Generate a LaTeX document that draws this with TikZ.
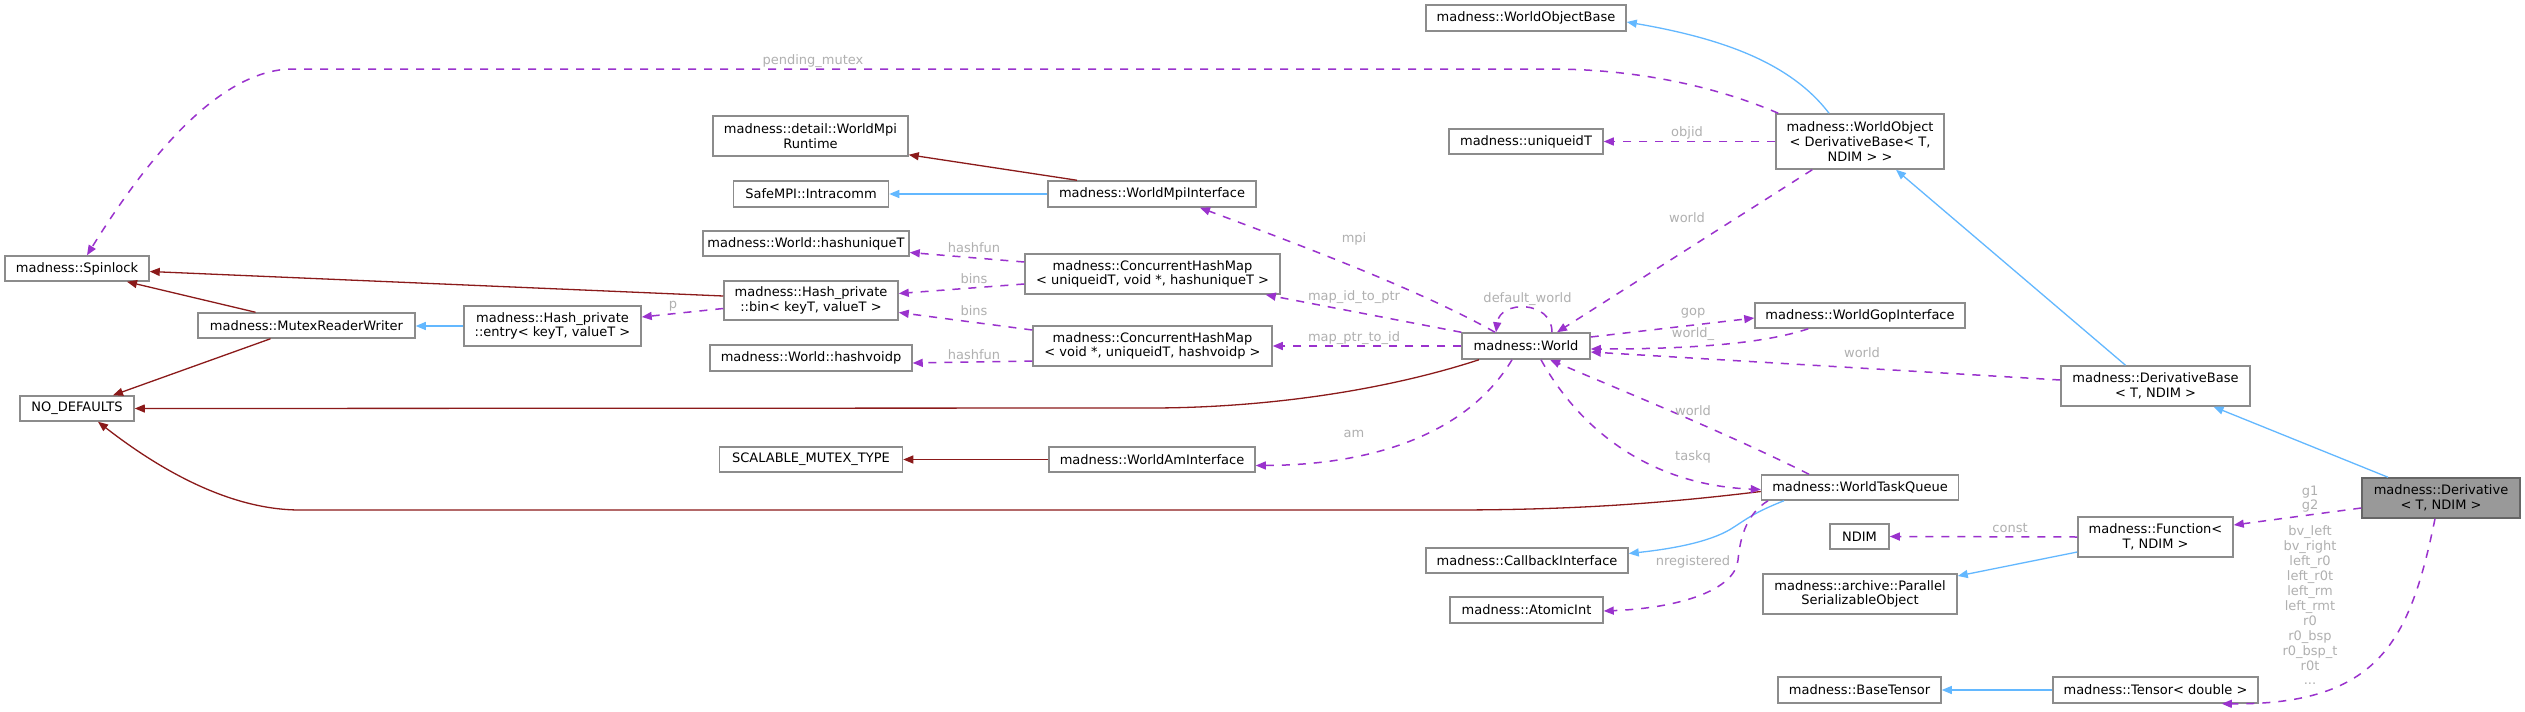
\documentclass[tikz,border=0pt]{standalone}
\usepackage{fontspec}
\setmainfont{DejaVu Sans}
\usetikzlibrary{arrows.meta,calc}
\definecolor{inhc}{HTML}{63B8FF}
\definecolor{protc}{HTML}{8B1A1A}
\definecolor{usec}{HTML}{9A32CD}
\definecolor{lblc}{HTML}{B0B0B0}
\definecolor{bordc}{HTML}{8C8C8C}
\definecolor{dfill}{HTML}{999999}
\definecolor{dbord}{HTML}{666666}
\begin{document}
\begin{tikzpicture}[x=1pt,y=-1pt,
  font=\fontsize{13}{14.6}\selectfont,
  cls/.style={draw=bordc, line width=1.5pt, fill=white, inner sep=0pt, align=center, text=black},
  wh/.style 2 args={minimum width=#1pt, minimum height=#2pt},
  tip/.style={-{Triangle[length=10pt,width=8pt]}},
  inh/.style={draw=inhc, line width=1.3pt, tip},
  prot/.style={draw=protc, line width=1.3pt, tip},
  use/.style={draw=usec, line width=1.5pt, dash pattern=on 8pt off 8pt, tip},
  lbl/.style={text=lblc, inner sep=0pt, align=center}]
\useasboundingbox (0,0) rectangle (2525,712);
\fill[white] (0,0) rectangle (2525,712);

% nodes
\node[cls, wh={200}{26}] (wob) at (1526,18) {madness::WorldObjectBase};
\node[cls, wh={168}{55}] (wo) at (1860,141.5) {madness::WorldObject\\< DerivativeBase< T,\\ NDIM > >};
\node[cls, wh={154}{25}] (uid) at (1526,141.5) {madness::uniqueidT};
\node[cls, wh={195}{40}] (rt) at (810.5,136) {madness::detail::WorldMpi\\Runtime};
\node[cls, wh={155}{26}] (safe) at (811,194) {SafeMPI::Intracomm};
\node[cls, wh={208}{26}] (mpi) at (1152,194) {madness::WorldMpiInterface};
\node[cls, wh={206}{25}] (hu) at (806,243.5) {madness::World::hashuniqueT};
\node[cls, wh={255}{40}] (chm1) at (1152.5,274) {madness::ConcurrentHashMap\\< uniqueidT, void *, hashuniqueT >};
\node[cls, wh={174}{39}] (bin) at (811,300.5) {madness::Hash\_private\\::bin< keyT, valueT >};
\node[cls, wh={177}{40}] (entry) at (552.5,326) {madness::Hash\_private\\::entry< keyT, valueT >};
\node[cls, wh={217}{25}] (mrw) at (306.5,325.5) {madness::MutexReaderWriter};
\node[cls, wh={144}{25}] (spin) at (77,268.5) {madness::Spinlock};
\node[cls, wh={202}{26}] (hv) at (811,358) {madness::World::hashvoidp};
\node[cls, wh={239}{40}] (chm2) at (1152.5,346) {madness::ConcurrentHashMap\\< void *, uniqueidT, hashvoidp >};
\node[cls, wh={128}{26}] (world) at (1526,346) {madness::World};
\node[cls, wh={114}{25}] (nod) at (77,408.5) {NO\_DEFAULTS};
\node[cls, wh={183}{25}] (smt) at (811,459.5) {SCALABLE\_MUTEX\_TYPE};
\node[cls, wh={206}{25}] (am) at (1152,459.5) {madness::WorldAmInterface};
\node[cls, wh={202}{25}] (cb) at (1527,560.5) {madness::CallbackInterface};
\node[cls, wh={153}{26}] (ai) at (1526.5,610) {madness::AtomicInt};
\node[cls, wh={197}{25}] (wtq) at (1860,487.5) {madness::WorldTaskQueue};
\node[cls, wh={210}{25}] (gop) at (1860,315.5) {madness::WorldGopInterface};
\node[cls, wh={59}{25}] (ndim) at (1859.5,536.5) {NDIM};
\node[cls, wh={194}{40}] (pso) at (1860,594) {madness::archive::Parallel\\SerializableObject};
\node[cls, wh={163}{26}] (bt) at (1859.5,690) {madness::BaseTensor};
\node[cls, wh={155}{40}] (fn) at (2155.5,537) {madness::Function<\\ T, NDIM >};
\node[cls, wh={205}{26}] (ten) at (2155.5,690) {madness::Tensor< double >};
\node[cls, wh={189}{40}] (db) at (2155.5,386) {madness::DerivativeBase\\< T, NDIM >};
\node[cls, wh={158}{40}, fill=dfill, draw=dbord] (der) at (2441,498) {madness::Derivative\\< T, NDIM >};

% public inheritance
\draw[inh] ($(wo.north)+(-31,0)$) .. controls (1790,62) and (1720,38) .. ($(wob.east)+(0,4)$);
\draw[inh] ($(db.north)+(-30,0)$) -- ($(wo.south)+(36,0)$);
\draw[inh] ($(der.north)+(-53,0)$) -- ($(db.south)+(58,0)$);
\draw[inh] (mpi.west) -- (safe.east);
\draw[inh] (entry.west) -- ($(mrw.east)+(0,0.5)$);
\draw[inh] ($(wtq.south)+(-76,0)$) .. controls (1755,512) and (1745,520) .. (1734,527) .. controls (1715,540) and (1680,548) .. ($(cb.east)+(0,-7)$);
\draw[inh] ($(fn.west)+(0,15)$) -- ($(pso.east)+(0,-18)$);
\draw[inh] (ten.west) -- (bt.east);

% protected inheritance
\draw[prot] ($(mpi.north)+(-75,0)$) -- ($(rt.south east)+(0,-2)$);
\draw[prot] ($(bin.west)+(0,-4.5)$) -- ($(spin.east)+(0,3)$);
\draw[prot] ($(mrw.north)+(-51,0)$) -- ($(spin.south)+(50,0)$);
\draw[prot] ($(mrw.south)+(-36,0)$) -- ($(nod.north)+(36,0)$);
\draw[prot] ($(world.south)+(-47,0)$) .. controls (1380,392) and (1260,408) .. (1150,408) -- (nod.east);
\draw[prot] ($(wtq.west)+(0,4)$) .. controls (1650,505) and (1560,510) .. (1450,510) -- (300,510) .. controls (230,510) and (160,470) .. ($(nod.south)+(21,0)$);
\draw[prot] (am.west) -- (smt.east);

% usage
\draw[use] ($(wo.north west)+(3,0)$) .. controls (1720,88) and (1640,69) .. (1550,69) -- (293,69) .. controls (215,69) and (140,170) .. ($(spin.north)+(10,0)$);
\node[lbl] (lpm) at (813,61) {pending\_mutex};

\draw[use] (wo.west) -- (uid.east);
\node[lbl] (lobj) at (1687,133) {objid};

\draw[use] ($(wo.south west)+(37,0)$) -- ($(world.north)+(31,0)$);
\node[lbl] (lw1) at (1687,218) {world};

\draw[use] ($(world.north)+(-31,0)$) .. controls (1420,290) and (1300,245) .. ($(mpi.south)+(48,0)$);
\node[lbl] (lmpi) at (1354,239) {mpi};

\draw[use] (world.north west) -- ($(chm1.south east)+(-15,0)$);
\node[lbl] (lid) at (1354,297) {map\_id\_to\_ptr};

\draw[use] (world.west) -- (chm2.east);
\node[lbl] (lptr) at (1354,338) {map\_ptr\_to\_id};

\draw[use] ($(world.north)+(26,0)$) .. controls (1552,300) and (1500,300) .. ($(world.north)+(-30,0)$);
\node[lbl] (ldw) at (1527.5,299) {default\_world};

\draw[use] ($(world.east)+(0,-9)$) -- ($(gop.west)+(0,2.5)$);
\node[lbl] (lgop) at (1693,313) {gop};

\draw[use] ($(gop.south west)+(54,0)$) .. controls (1760,345) and (1680,349) .. ($(world.east)+(0,3)$);
\node[lbl] (lw2) at (1693,334) {world\_};

\draw[use] ($(db.west)+(0,-6)$) -- ($(world.east)+(0,6)$);
\node[lbl] (lw3) at (1862,353) {world};

\draw[use] ($(wtq.north)+(-51,0)$) .. controls (1720,430) and (1620,390) .. ($(world.south)+(24,0)$);
\node[lbl] (lw4) at (1693,411) {world};

\draw[use] ($(world.south)+(15,0)$) .. controls (1580,430) and (1650,485) .. ($(wtq.west)+(0,2)$);
\node[lbl] (ltq) at (1693,457) {taskq};

\draw[use] ($(world.south)+(-14,0)$) .. controls (1470,430) and (1380,465) .. ($(am.east)+(0,6)$);
\node[lbl] (lam) at (1354,434) {am};

\draw[use] ($(wtq.south)+(-92,0)$) .. controls (1745,515) and (1740,540) .. (1738,560) .. controls (1735,590) and (1680,608) .. ($(ai.east)+(0,1)$);
\node[lbl] (lnr) at (1693,562) {nregistered};

\draw[use] (fn.west) -- (ndim.east);
\node[lbl] (lc) at (2010,528) {const};

\draw[use] ($(der.west)+(0,10)$) -- ($(fn.east)+(0,-12)$);
\node[lbl, font=\fontsize{13}{14}\selectfont] (lg) at (2310,499) {g1\\g2};

\draw[use] ($(der.south)+(-6,0)$) .. controls (2410,640) and (2380,705) .. ($(ten.south east)+(-37,0)$);
\node[lbl, font=\fontsize{13}{14.9}\selectfont] (lst) at (2310,605.5) {bv\_left\\bv\_right\\left\_r0\\left\_r0t\\left\_rm\\left\_rmt\\r0\\r0\_bsp\\r0\_bsp\_t\\r0t\\...};

\draw[use] ($(bin.west)+(0,8)$) -- ($(entry.east)+(0,-9)$);
\node[lbl] (lp) at (673,306) {p};

\draw[use] ($(chm1.west)+(0,-12)$) -- ($(hu.east)+(0,9)$);
\node[lbl] (lh1) at (974,248) {hashfun};

\draw[use] ($(chm1.west)+(0,10)$) -- ($(bin.east)+(0,-7)$);
\node[lbl] (lb1) at (974,279) {bins};

\draw[use] ($(chm2.west)+(0,-16)$) -- ($(bin.east)+(0,12)$);
\node[lbl] (lb2) at (974,311) {bins};

\draw[use] ($(chm2.west)+(0,15)$) -- ($(hv.east)+(0,5)$);
\node[lbl] (lh2) at (974,355) {hashfun};
\end{tikzpicture}
\end{document}
